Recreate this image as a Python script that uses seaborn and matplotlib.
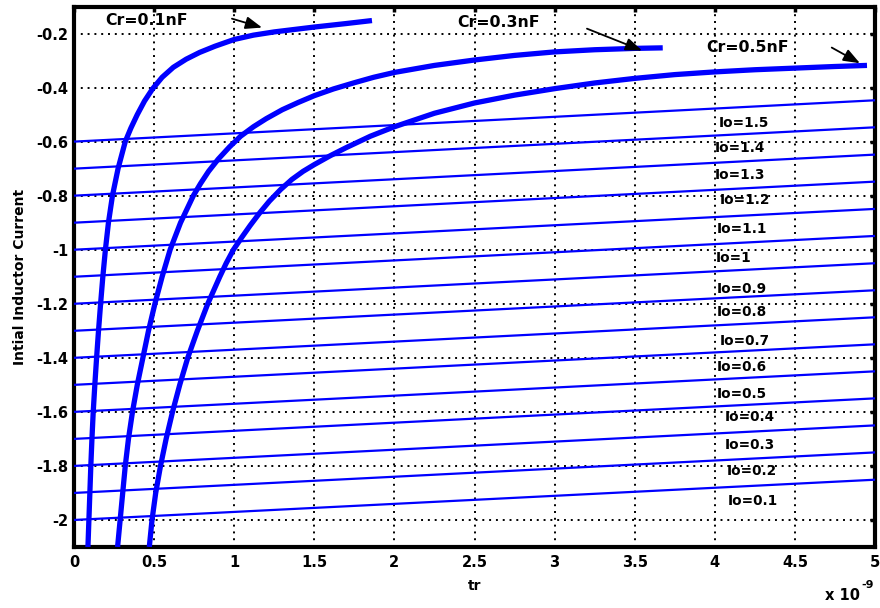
import numpy as np
import pandas as pd
import matplotlib
matplotlib.use("Agg")
import matplotlib.pyplot as plt
import seaborn as sns

# ---------------- data (t in ns, current in A) ----------------
cr01_t = [0.087, 0.093, 0.099, 0.105, 0.112, 0.12, 0.13, 0.141, 0.153, 0.166, 0.18, 0.196, 0.215, 0.24, 0.275,
          0.32, 0.355, 0.395, 0.44, 0.49, 0.55, 0.62, 0.70, 0.784, 0.88, 1.0, 1.12, 1.25, 1.5, 1.7, 1.86]
cr01_i = [-2.1, -2.0, -1.9, -1.8, -1.7, -1.6, -1.5, -1.4, -1.3, -1.2, -1.1, -1.0, -0.9, -0.8, -0.7,
          -0.6, -0.55, -0.5, -0.45, -0.405, -0.362, -0.325, -0.295, -0.27, -0.247, -0.222, -0.206, -0.194, -0.176, -0.163, -0.152]

cr03_t = [0.272, 0.288, 0.304, 0.32, 0.34, 0.365, 0.395, 0.43, 0.465, 0.505, 0.55, 0.6, 0.665, 0.745, 0.79,
          0.84, 0.9, 0.97, 1.04, 1.12, 1.2, 1.3, 1.4, 1.5, 1.62, 1.75, 1.87, 2.0, 2.25, 2.5, 2.75,
          3.0, 3.25, 3.5, 3.675]
cr03_i = [-2.1, -2.0, -1.9, -1.8, -1.7, -1.6, -1.5, -1.4, -1.3, -1.2, -1.1, -1.0, -0.9, -0.8, -0.755,
          -0.71, -0.665, -0.62, -0.58, -0.545, -0.515, -0.482, -0.455, -0.43, -0.405, -0.382, -0.362, -0.344, -0.318, -0.298, -0.281,
          -0.268, -0.26, -0.255, -0.253]

cr05_t = [0.47, 0.487, 0.51, 0.54, 0.575, 0.615, 0.66, 0.71, 0.77, 0.835, 0.91, 0.95, 0.995, 1.05, 1.1,
          1.16, 1.22, 1.29, 1.36, 1.43, 1.5, 1.6, 1.7, 1.85, 2.0, 2.25, 2.5, 2.75, 3.0, 3.25,
          3.5, 3.75, 4.0, 4.25, 4.5, 4.75, 4.95]
cr05_i = [-2.1, -2.0, -1.9, -1.8, -1.7, -1.6, -1.5, -1.4, -1.3, -1.2, -1.1, -1.05, -1.0, -0.952, -0.91,
          -0.863, -0.82, -0.777, -0.74, -0.71, -0.685, -0.652, -0.622, -0.58, -0.545, -0.495, -0.457, -0.428, -0.404, -0.383,
          -0.366, -0.352, -0.342, -0.334, -0.328, -0.322, -0.318]

io_values = ["1.5", "1.4", "1.3", "1.2", "1.1", "1", "0.9", "0.8", "0.7", "0.6", "0.5", "0.4", "0.3", "0.2", "0.1"]
io_start = [-0.6, -0.7, -0.8, -0.9, -1.0, -1.1, -1.2, -1.3, -1.4, -1.5, -1.6, -1.7, -1.8, -1.9, -2.0]
io_end = [-0.447, -0.547, -0.648, -0.748, -0.849, -0.949, -1.05, -1.15, -1.25, -1.35, -1.45, -1.55, -1.65, -1.75, -1.851]
io_label_t = [4.185, 4.16, 4.16, 4.19, 4.167, 4.12, 4.167, 4.17, 4.19, 4.17, 4.17, 4.22, 4.22, 4.23, 4.235]
io_label_i = [-0.531, -0.624, -0.723, -0.815, -0.922, -1.029, -1.147, -1.231, -1.338, -1.434, -1.533, -1.618, -1.721, -1.817, -1.928]

x_ticks = [0, 0.5, 1, 1.5, 2, 2.5, 3, 3.5, 4, 4.5, 5]
y_ticks = [-2, -1.8, -1.6, -1.4, -1.2, -1, -0.8, -0.6, -0.4, -0.2]

# ---------------- figure ----------------
sns.set_style("white")
plt.rcParams["font.family"] = ["DejaVu Sans"]
plt.rcParams["font.weight"] = "bold"
plt.rcParams["text.color"] = "black"
plt.rcParams["axes.labelcolor"] = "black"
plt.rcParams["xtick.color"] = "black"
plt.rcParams["ytick.color"] = "black"

fig = plt.figure(figsize=(8.8, 6.08), dpi=100)
ax = fig.add_axes([74 / 880, 1 - 547 / 608, (875 - 74) / 880, (547 - 6.5) / 608])

BLUE = "#0000ff"

# Io lines
io_rows = []
for lab, s, e in zip(io_values, io_start, io_end):
    io_rows.append({"Io": lab, "t": 0.0, "i": s})
    io_rows.append({"Io": lab, "t": 5.0, "i": e})
io_df = pd.DataFrame(io_rows)
sns.lineplot(data=io_df, x="t", y="i", units="Io", estimator=None, sort=False,
             color=BLUE, linewidth=1.6, ax=ax, zorder=3)

# Cr curves
for tt, ii in [(cr01_t, cr01_i), (cr03_t, cr03_i), (cr05_t, cr05_i)]:
    d = pd.DataFrame({"t": tt, "i": ii})
    sns.lineplot(data=d, x="t", y="i", estimator=None, sort=False,
                 color=BLUE, linewidth=3.8, ax=ax, zorder=4)
for ln in ax.get_lines():
    ln.set_solid_joinstyle("round")
    ln.set_solid_capstyle("butt")

ax.set_xlim(0, 5)
ax.set_ylim(-2.1, -0.1)
ax.set_xticks(x_ticks)
ax.set_xticklabels(["%g" % v for v in x_ticks])
ax.set_yticks(y_ticks)
ax.set_yticklabels(["%g" % v for v in y_ticks])

ax.grid(True, color="black", linestyle=(0, (1, 2.5)), linewidth=1.4, zorder=1)
ax.set_axisbelow(True)
for sp in ax.spines.values():
    sp.set_linewidth(3)
    sp.set_color("black")
    sp.set_visible(True)

ax.tick_params(axis="both", which="major", direction="in", length=3.5, width=2.5,
               top=True, right=True, labelsize=10.5, pad=4, colors="black")
for lab in ax.get_xticklabels() + ax.get_yticklabels():
    lab.set_fontweight("bold")
ax.tick_params(axis="x", pad=6)

ax.set_xlabel("tr", fontsize=10, fontweight="bold", labelpad=6, color="black")
ax.set_ylabel("Intial Inductor Current", fontsize=10, fontweight="bold", labelpad=7, color="black")

# Io labels
for lab, tx, ty in zip(io_values, io_label_t, io_label_i):
    ax.text(tx, ty, "Io=" + lab, fontsize=9.8, fontweight="bold", ha="center", va="center",
            color="black", zorder=5)

# Cr labels and arrows
ax.text(0.45, -0.152, "Cr=0.1nF", fontsize=11.3, fontweight="bold", ha="center", va="center", color="black", zorder=5)
ax.text(2.653, -0.16, "Cr=0.3nF", fontsize=11.3, fontweight="bold", ha="center", va="center", color="black", zorder=5)
ax.text(4.207, -0.252, "Cr=0.5nF", fontsize=11.3, fontweight="bold", ha="center", va="center", color="black", zorder=5)

arrow_kw = dict(arrowstyle="-|>,head_length=1.0,head_width=0.38", color="black", lw=1.3, shrinkA=0, shrinkB=0)
ax.annotate("", xy=(1.174, -0.178), xytext=(0.986, -0.145), arrowprops=arrow_kw, zorder=6)
ax.annotate("", xy=(3.546, -0.263), xytext=(3.202, -0.182), arrowprops=arrow_kw, zorder=6)
ax.annotate("", xy=(4.906, -0.31), xytext=(4.73, -0.252), arrowprops=arrow_kw, zorder=6)

# MATLAB-style exponent label
fig.text(842 / 880, 1 - 596 / 608, "x 10", fontsize=10.5, fontweight="bold", ha="center", va="center", color="black")
fig.text(868 / 880, 1 - 585 / 608, "-9", fontsize=8, fontweight="bold", ha="center", va="center", color="black")

fig.savefig("out.png", dpi=100)
